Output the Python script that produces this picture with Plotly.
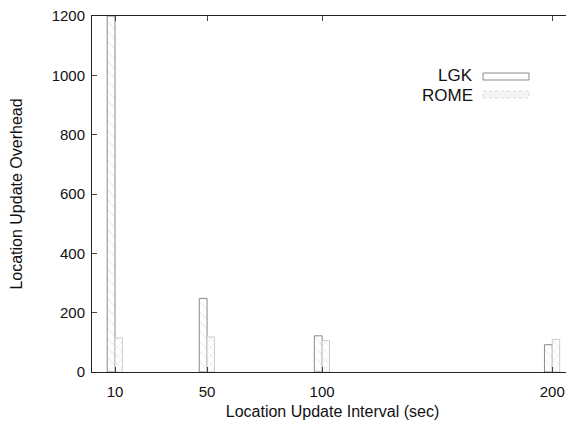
import plotly.graph_objects as go

intervals = [10, 50, 100, 200]
lgk = [1200, 248, 122, 92]
rome = [115, 118, 106, 110]
x_ticks = [10, 50, 100, 200]
y_ticks = [0, 200, 400, 600, 800, 1000, 1200]

# page has an 8px body margin; work in screen pixels and convert
OFF = 8
W, H = 574 - OFF, 428 - OFF
L, R, T, B = 92, 573, 16, 372  # plot area in screen pixels

fig = go.Figure()
fig.add_trace(go.Bar(
    x=intervals, y=lgk, name="LGK", width=3.4, offset=-3.4,
    marker=dict(color="white", line=dict(color="#8a8a8a", width=1),
                pattern=dict(shape="\\", fgcolor="#d4d4d4", bgcolor="white", size=7, solidity=0.15)),
    showlegend=False,
))
fig.add_trace(go.Bar(
    x=intervals, y=rome, name="ROME", width=3.2, offset=0,
    marker=dict(color="white", line=dict(color="#cccccc", width=1),
                pattern=dict(shape="x", fgcolor="#c4c4c4", bgcolor="white", size=6, solidity=0.2)),
    showlegend=False,
))

font = "Liberation Sans, Arial, sans-serif"
fig.update_layout(
    width=W, height=H,
    margin=dict(l=L - OFF, r=W - (R - OFF), t=T - OFF, b=H - (B - OFF), autoexpand=False),
    paper_bgcolor="white", plot_bgcolor="white",
    barmode="overlay",
    font=dict(family=font, size=15, color="#111"),
    xaxis=dict(range=[0, 209], tickvals=x_ticks, ticks="inside", ticklen=5,
               showline=True, linecolor="#222", linewidth=1, mirror="ticks",
               showgrid=False, zeroline=False, ticklabelstandoff=6, ticklabeloverflow="allow",
               title=dict(text="Location Update Interval (sec)", font=dict(size=16), standoff=6),
               tickfont=dict(size=15)),
    yaxis=dict(range=[0, 1200], tickvals=y_ticks, ticks="inside", ticklen=5,
               showline=True, linecolor="#222", linewidth=1, mirror="ticks",
               showgrid=False, zeroline=False, ticklabelstandoff=3, ticklabeloverflow="allow",
               title=dict(text="Location Update Overhead", font=dict(size=16), standoff=26),
               tickfont=dict(size=15)),
)

pw, ph = R - L, B - T
def px(xs):
    return (xs - L) / pw
def py(ys):
    return 1 - (ys - T) / ph

fig.add_annotation(x=px(475), y=py(76), xref="paper", yref="paper", text="LGK", showarrow=False,
                   xanchor="right", yanchor="middle", font=dict(size=17, family=font))
fig.add_annotation(x=px(475), y=py(95), xref="paper", yref="paper", text="ROME", showarrow=False,
                   xanchor="right", yanchor="middle", font=dict(size=17, family=font))
fig.add_shape(type="rect", xref="paper", yref="paper", x0=px(483), x1=px(529), y0=py(80), y1=py(73),
              line=dict(color="#8a8a8a", width=1), fillcolor="white")
fig.add_shape(type="rect", xref="paper", yref="paper", x0=px(483), x1=px(529), y0=py(98), y1=py(91),
              line=dict(color="#d8d8d8", width=1, dash="dot"), fillcolor="#f4f4f4")

fig.write_html("out.html")
